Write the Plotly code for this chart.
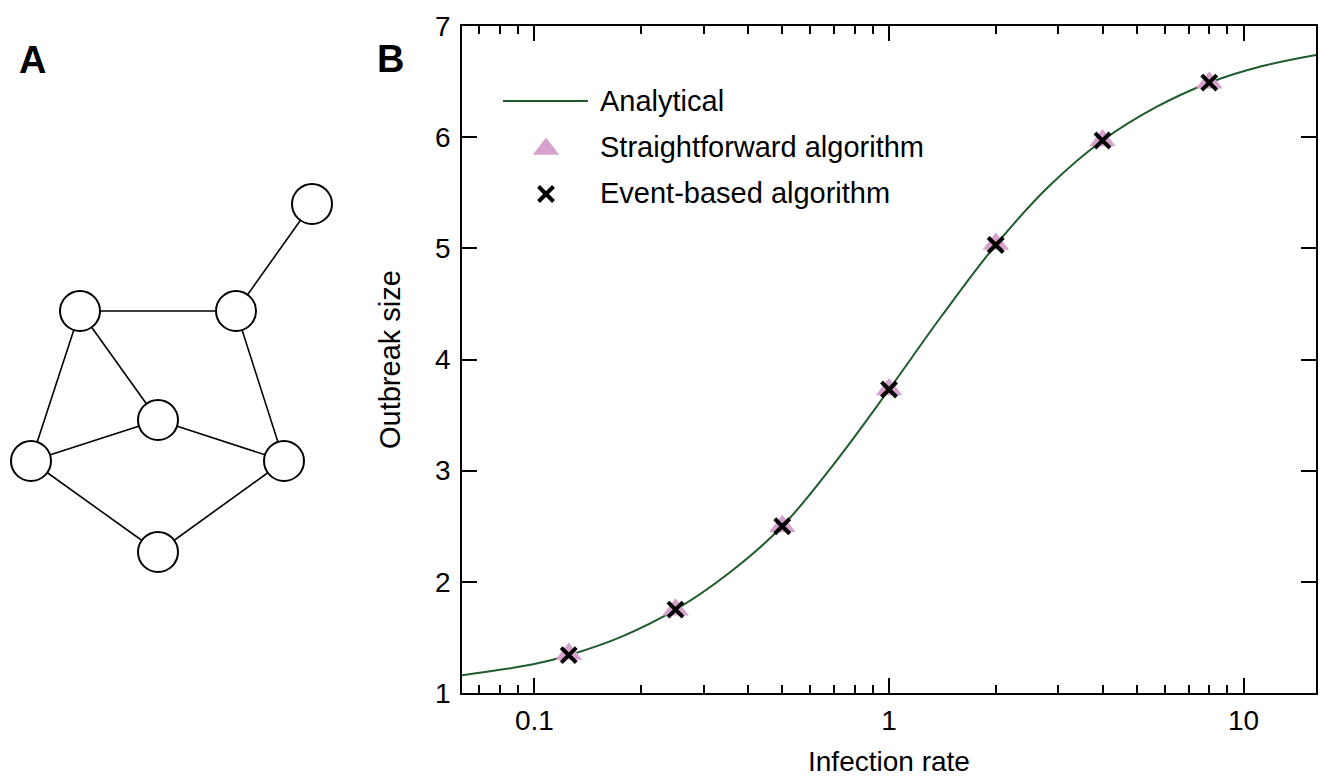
import plotly.graph_objects as go
import numpy as np

# ---------------- data ----------------
# Panel B: outbreak size vs infection rate
rate_points = [0.125, 0.25, 0.5, 1, 2, 4, 8]
straightforward = [1.35, 1.75, 2.50, 3.73, 5.04, 5.97, 6.49]
event_based = [1.34, 1.75, 2.50, 3.73, 5.03, 5.97, 6.49]

rate_curve = [0.0625, 0.1, 0.125, 0.177, 0.25, 0.354, 0.5, 0.707, 1.0,
              1.414, 2.0, 2.83, 4.0, 5.66, 8.0, 11.3, 16.0]
analytical = [1.16, 1.26, 1.34, 1.51, 1.75, 2.08, 2.50, 3.08, 3.73,
              4.40, 5.03, 5.56, 5.97, 6.27, 6.49, 6.64, 6.74]

x_tick_vals = [0.1, 1, 10]
x_tick_text = ["0.1", "1", "10"]
x_minor_vals = [0.07, 0.08, 0.09, 0.2, 0.3, 0.4, 0.5, 0.6, 0.7, 0.8, 0.9,
                2, 3, 4, 5, 6, 7, 8, 9]
y_tick_vals = [1, 2, 3, 4, 5, 6, 7]

# Panel A: small network (node positions in figure pixels)
node_x = [312, 80, 236, 158, 31, 284, 158]
node_y = [204, 311, 311, 420, 461, 461, 552]
edges = [(0, 2), (1, 2), (1, 3), (1, 4), (2, 5), (3, 4), (3, 5), (4, 6), (5, 6)]

legend_labels = ["Analytical", "Straightforward algorithm", "Event-based algorithm"]

# ---------------- styles ----------------
W, H = 1321, 778
FONT = "Liberation Sans, Arial, Helvetica, sans-serif"
GREEN = "#1f5c2c"
PINK = "#d7a1cd"

fig = go.Figure()

# main plot traces
fig.add_trace(go.Scatter(x=rate_curve, y=analytical, mode="lines",
                         line=dict(color=GREEN, width=2, shape="spline", smoothing=1.0),
                         xaxis="x", yaxis="y", showlegend=False, name="Analytical"))
fig.add_trace(go.Scatter(x=rate_points, y=straightforward, mode="markers",
                         marker=dict(symbol="triangle-up", size=23, color=PINK, line=dict(width=0)),
                         xaxis="x", yaxis="y", showlegend=False, name="Straightforward algorithm"))
fig.add_trace(go.Scatter(x=rate_points, y=event_based, mode="markers",
                         marker=dict(symbol="x-thin", size=15, color="black",
                                     line=dict(width=4, color="black")),
                         xaxis="x", yaxis="y", showlegend=False, name="Event-based algorithm"))

# network (overlay pixel axes)
ex, ey = [], []
for a, b in edges:
    ex += [node_x[a], node_x[b], None]
    ey += [node_y[a], node_y[b], None]
fig.add_trace(go.Scatter(x=ex, y=ey, mode="lines", line=dict(color="black", width=1.6),
                         xaxis="x2", yaxis="y2", showlegend=False, hoverinfo="skip"))
fig.add_trace(go.Scatter(x=node_x, y=node_y, mode="markers",
                         marker=dict(symbol="circle", size=40, color="white",
                                     line=dict(color="black", width=2)),
                         xaxis="x2", yaxis="y2", showlegend=False, hoverinfo="skip"))

# manual legend keys (overlay pixel axes)
fig.add_trace(go.Scatter(x=[503, 588], y=[101, 101], mode="lines",
                         line=dict(color=GREEN, width=2),
                         xaxis="x2", yaxis="y2", showlegend=False, hoverinfo="skip"))
fig.add_trace(go.Scatter(x=[546], y=[149], mode="markers",
                         marker=dict(symbol="triangle-up", size=23, color=PINK, line=dict(width=0)),
                         xaxis="x2", yaxis="y2", showlegend=False, hoverinfo="skip"))
fig.add_trace(go.Scatter(x=[546], y=[194], mode="markers",
                         marker=dict(symbol="x-thin", size=15, color="black",
                                     line=dict(width=4, color="black")),
                         xaxis="x2", yaxis="y2", showlegend=False, hoverinfo="skip"))

annotations = []
for i, (lab, yy) in enumerate(zip(legend_labels, [101, 147, 193])):
    annotations.append(dict(x=598 / W, y=1 - yy / H, xref="paper", yref="paper",
                            text=lab, showarrow=False, xanchor="left", yanchor="middle",
                            font=dict(family=FONT, size=29, color="black")))
# axis titles
annotations.append(dict(x=390 / W, y=1 - 360 / H, xref="paper", yref="paper",
                        text="Outbreak size", textangle=-90, showarrow=False,
                        xanchor="center", yanchor="middle",
                        font=dict(family=FONT, size=29, color="black")))
annotations.append(dict(x=889 / W, y=1 - 761 / H, xref="paper", yref="paper",
                        text="Infection rate", showarrow=False,
                        xanchor="center", yanchor="middle",
                        font=dict(family=FONT, size=28, color="black")))
# panel labels
annotations.append(dict(x=32 / W, y=1 - 60 / H, xref="paper", yref="paper",
                        text="<b>A</b>", showarrow=False, xanchor="center", yanchor="middle",
                        font=dict(family=FONT, size=38, color="black")))
annotations.append(dict(x=390 / W, y=1 - 59 / H, xref="paper", yref="paper",
                        text="<b>B</b>", showarrow=False, xanchor="center", yanchor="middle",
                        font=dict(family=FONT, size=38, color="black")))

fig.update_layout(
    width=W, height=H,
    margin=dict(l=0, r=0, t=0, b=0),
    paper_bgcolor="white", plot_bgcolor="rgba(0,0,0,0)",
    font=dict(family=FONT, color="black"),
    xaxis=dict(type="log", domain=[462 / W, 1316 / W],
               range=[np.log10(1 / 16), np.log10(16)],
               tickmode="array", tickvals=x_tick_vals, ticktext=x_tick_text,
               ticks="inside", ticklen=15, tickwidth=1.5, tickcolor="black",
               minor=dict(tickmode="array", tickvals=x_minor_vals, ticks="inside",
                          ticklen=8, tickwidth=1.5, tickcolor="black", showgrid=False),
               showline=True, linecolor="black", linewidth=1.5, mirror="ticks",
               showgrid=False, zeroline=False, automargin=False,
               tickfont=dict(family=FONT, size=28, color="black"),
               ticklabelstandoff=2, anchor="y"),
    yaxis=dict(domain=[1 - 693 / H, 1 - 26 / H], range=[1, 7],
               tickmode="array", tickvals=y_tick_vals,
               ticks="inside", ticklen=15, tickwidth=1.5, tickcolor="black",
               showline=True, linecolor="black", linewidth=1.5, mirror="ticks",
               showgrid=False, zeroline=False, automargin=False,
               tickfont=dict(family=FONT, size=28, color="black"),
               ticklabelstandoff=4, anchor="x"),
    xaxis2=dict(domain=[0, 1], range=[0, W], visible=False, anchor="y2", fixedrange=True),
    yaxis2=dict(domain=[0, 1], range=[H, 0], visible=False, anchor="x2", fixedrange=True),
    annotations=annotations,
    showlegend=False,
)

fig.write_html("out.html")
